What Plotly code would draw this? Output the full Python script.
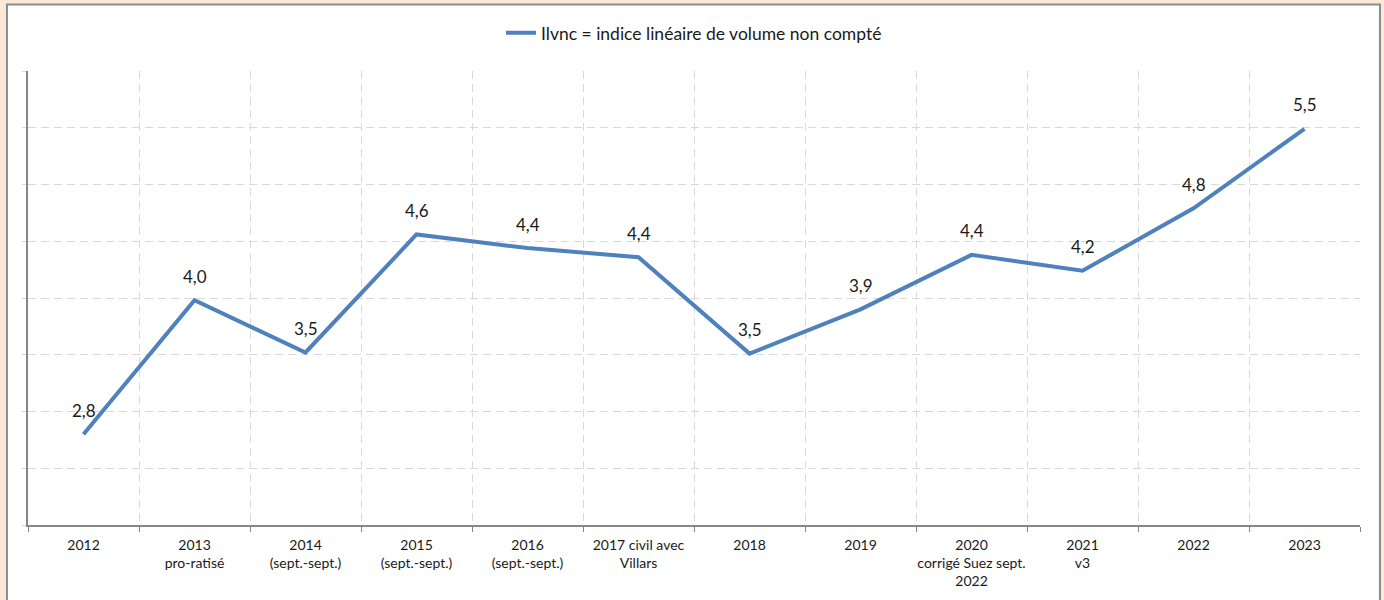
import plotly.graph_objects as go

# =============================================================================
# Data
# =============================================================================

categories = [
    "2012",
    "2013<br>pro-ratisé",
    "2014<br>(sept.-sept.)",
    "2015<br>(sept.-sept.)",
    "2016<br>(sept.-sept.)",
    "2017 civil avec<br>Villars",
    "2018",
    "2019",
    "2020<br>corrigé Suez sept.<br>2022",
    "2021<br>v3",
    "2022",
    "2023",
]

ilvnc = [2.80, 3.98, 3.52, 4.56, 4.44, 4.36, 3.51, 3.90, 4.38, 4.24, 4.79, 5.49]

series_name = "Ilvnc = indice linéaire de volume non compté"

# =============================================================================
# Chart
# =============================================================================

LINE_COLOR = "#4f81bd"
GRID_COLOR = "#d9d9d9"
AXIS_COLOR = "#868686"
FONT = "Lato, Noto Sans, sans-serif"

fig = go.Figure()

fig.add_trace(
    go.Scatter(
        x=categories,
        y=ilvnc,
        mode="lines",
        line=dict(width=4, color=LINE_COLOR),
        name=series_name,
        showlegend=True,
    )
)

# data labels above each point (x as category index so "2012" isn't read as a number)
for i, val in enumerate(ilvnc):
    fig.add_annotation(
        x=i,
        y=val,
        text=f"{val:.1f}".replace(".", ","),
        showarrow=False,
        yshift=24,
        font=dict(size=17, color="#1a1a1a", family=FONT),
    )

# outer frame of the chart
fig.add_shape(
    type="rect",
    xref="paper",
    yref="paper",
    x0=-0.0158,
    x1=1.0150,
    y0=-0.2,
    y1=1.1465,
    line=dict(color="#8c8c8c", width=2),
    fillcolor="white",
    layer="below",
)

fig.update_xaxes(
    type="category",
    tickson="boundaries",
    tickangle=0,
    automargin=False,
    ticklabelstandoff=6,
    showgrid=True,
    gridcolor=GRID_COLOR,
    griddash="8px,5px",
    gridwidth=1.2,
    showline=True,
    linecolor=AXIS_COLOR,
    linewidth=1.5,
    ticks="outside",
    ticklen=5,
    tickcolor=AXIS_COLOR,
    tickfont=dict(size=14, color="#1a1a1a", family=FONT),
    range=[-0.5, 11.5],
    fixedrange=True,
)

fig.update_yaxes(
    range=[2, 6],
    dtick=0.5,
    automargin=False,
    showticklabels=False,
    showgrid=True,
    gridcolor=GRID_COLOR,
    griddash="8px,5px",
    gridwidth=1.2,
    showline=True,
    linecolor=AXIS_COLOR,
    linewidth=1.5,
    ticks="outside",
    ticklen=4,
    tickcolor=GRID_COLOR,
    zeroline=False,
    fixedrange=True,
)

fig.update_layout(
    width=1384,
    height=600,
    margin=dict(l=28, r=24, t=71, b=75),
    paper_bgcolor="#fde9d9",
    plot_bgcolor="white",
    font=dict(family=FONT, size=14, color="#1a1a1a"),
    separators=", ",
    showlegend=True,
    legend=dict(
        orientation="h",
        x=0.5,
        xanchor="center",
        y=1.084,
        yanchor="middle",
        font=dict(size=17.5, color="#1a1a1a", family=FONT),
        bgcolor="rgba(0,0,0,0)",
    ),
)

fig.write_html(
    "out.html",
    config={"displayModeBar": False},
    post_script="document.body.style.margin='0';",
)
